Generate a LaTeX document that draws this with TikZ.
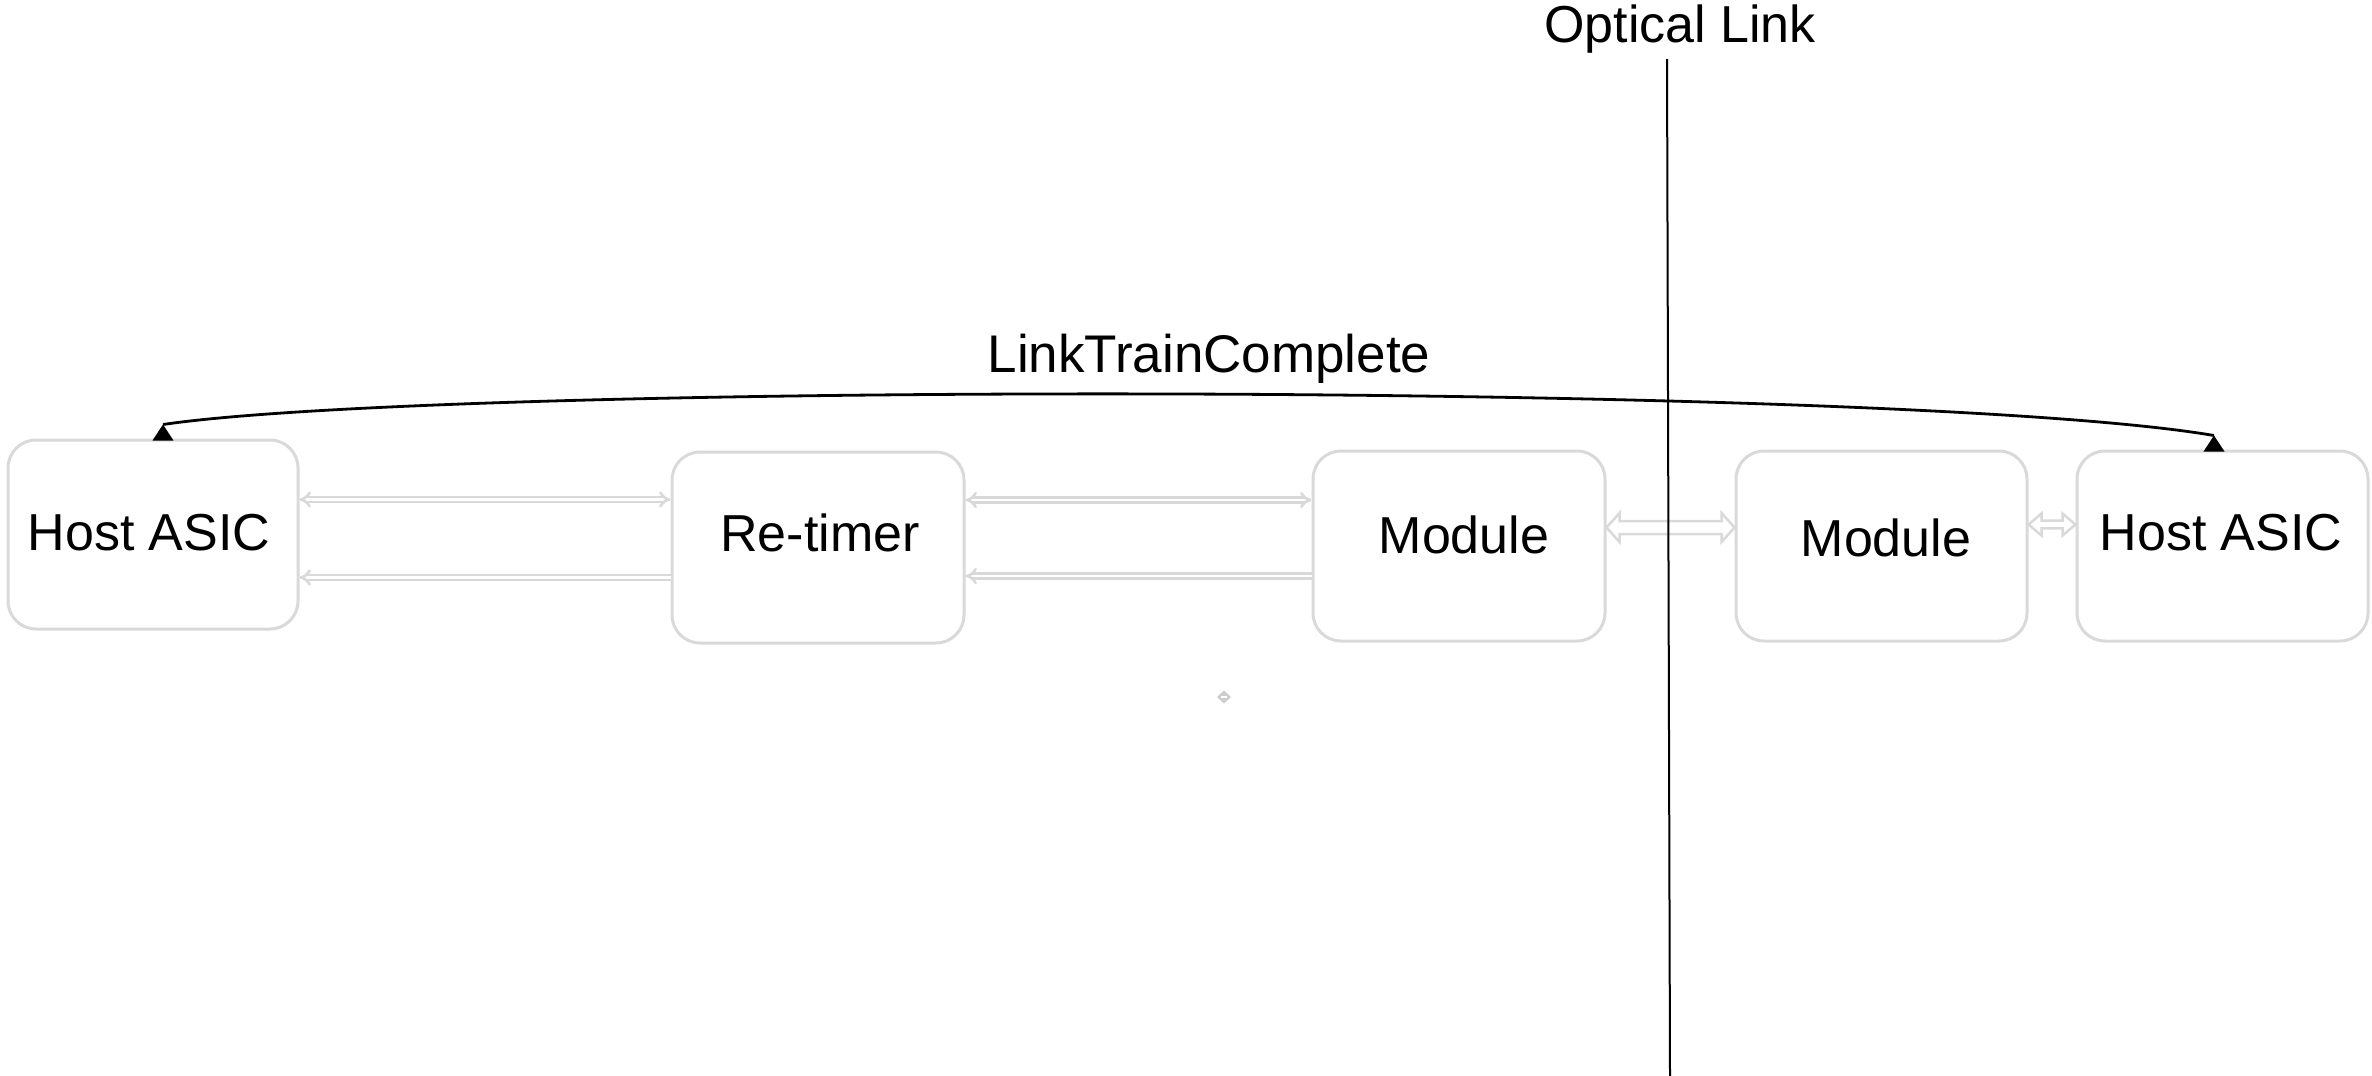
\documentclass[tikz,border=0pt]{standalone}
\usepackage{fontspec}
\setmainfont{Liberation Sans}
\usetikzlibrary{arrows.meta,calc}
\definecolor{boxgray}{RGB}{217,217,217}
\definecolor{dotgray}{RGB}{205,205,205}
\begin{document}
\begin{tikzpicture}[x=1pt,y=-1pt,
  box/.style={draw=boxgray, line width=3pt, rounded corners=28pt,
    minimum width=290pt, minimum height=189pt, inner sep=0pt},
  lbl/.style={anchor=base, inner sep=0pt, font=\fontsize{52}{60}\selectfont},
  dline/.style={draw=boxgray, double=white, double distance=2.6pt, line width=2.6pt},
  flex/.style={draw=boxgray, fill=white, line width=2.5pt, line join=miter},
]
\useasboundingbox (0,0) rectangle (2372,1076);

% boxes
\node[box] (hostL) at (153,534.5) {};
\node[box, minimum width=292pt, minimum height=191pt] (ret) at (818,547.5) {};
\node[box, minimum width=292pt, minimum height=190pt] (modA) at (1459,546) {};
\node[box, minimum width=291pt, minimum height=190pt] (modB) at (1881.5,546) {};
\node[box, minimum width=291pt, minimum height=190pt] (hostR) at (2222.5,546) {};

% box labels
\node[lbl] (tHostL) at (149,550) {Host ASIC};
\node[lbl] (tRet) at (820,551) {Re-timer};
\node[lbl] (tModA) at (1464,553) {Module};
\node[lbl] (tModB) at (1886,556) {Module};
\node[lbl] (tHostR) at (2221,550) {Host ASIC};

% electrical lanes
\coordinate (yA) at (0,499.5);
\coordinate (yB) at (0,577.5);
\coordinate (yC) at (0,500);
\coordinate (yD) at (0,576);
\draw[dline, {Implies}-{Implies}] (hostL.east |- yA) -- (ret.west |- yA);
\draw[dline, {Implies}-] (hostL.east |- yB) -- (ret.west |- yB);
\draw[dline, {Implies}-{Implies}] (ret.east |- yC) -- (modA.west |- yC);
\draw[dline, {Implies}-] (ret.east |- yD) -- (modA.west |- yD);

% block arrows between module and module, module and host
\coordinate (fA) at (0,527.5);
\coordinate (fa1) at (modA.east |- fA);
\coordinate (fa2) at (modB.west |- fA);
\draw[flex] (fa1) -- ($(fa1)+(13,-14.5)$) -- ($(fa1)+(13,-6.5)$)
  -- ($(fa2)+(-13,-6.5)$) -- ($(fa2)+(-13,-14.5)$) -- (fa2)
  -- ($(fa2)+(-13,14.5)$) -- ($(fa2)+(-13,6.5)$)
  -- ($(fa1)+(13,6.5)$) -- ($(fa1)+(13,14.5)$) -- cycle;

\coordinate (fB) at (0,524.5);
\coordinate (fb1) at (modB.east |- fB);
\coordinate (fb2) at (hostR.west |- fB);
\draw[flex] (fb1) -- ($(fb1)+(13,-11)$) -- ($(fb1)+(13,-3.8)$)
  -- ($(fb2)+(-13,-3.8)$) -- ($(fb2)+(-13,-11)$) -- (fb2)
  -- ($(fb2)+(-13,11)$) -- ($(fb2)+(-13,3.8)$)
  -- ($(fb1)+(13,3.8)$) -- ($(fb1)+(13,11)$) -- cycle;

% optical link boundary
\coordinate (vTop) at (1667,59);
\coordinate (vBot) at (1670,1076);
\draw[line width=2pt] (vTop) -- (vBot);
\node[lbl] (tOpt) at (1680,42) {Optical Link};

% end-to-end message, with its triangles sitting on the box tops
\coordinate (xL) at (163,0);
\coordinate (xR) at (2214,0);
\coordinate (bL) at (hostL.north -| xL);
\coordinate (bR) at (hostR.north -| xR);
\coordinate (aL) at ($(bL)+(0,-14)$);
\coordinate (aR) at ($(bR)+(0,-14)$);
\draw[line width=2.8pt] (aL) .. controls (450,382) and (1900,382) .. (aR);
\fill (aL) -- ($(bL)+(10.5,2)$) -- ($(bL)+(-10.5,2)$) -- cycle;
\fill (aR) -- ($(bR)+(10.5,2)$) -- ($(bR)+(-10.5,2)$) -- cycle;
\node[lbl, font=\fontsize{53}{60}\selectfont] (tLTC) at (1209,372) {LinkTrainComplete};

% stray marker
\coordinate (dm) at (1224,697);
\fill[dotgray] (dm) ++(-7,0) -- ++(7,-6.5) -- ++(7,6.5) -- ++(-7,6.5) -- cycle;
\draw[white, line width=1.5pt] ($(dm)+(-3,0)$) -- ($(dm)+(3,0)$);
\end{tikzpicture}
\end{document}
